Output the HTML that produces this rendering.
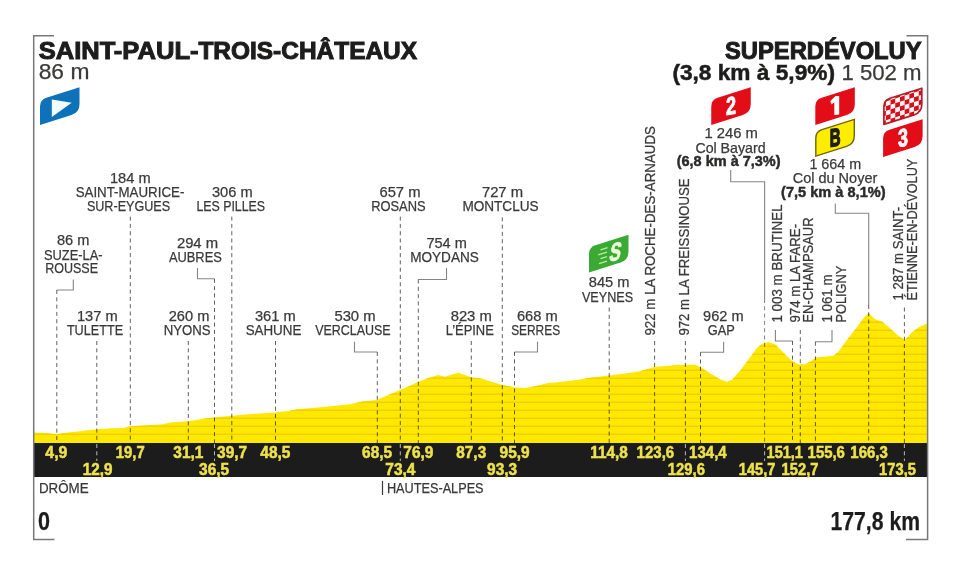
<!DOCTYPE html>
<html><head><meta charset="utf-8"><title>Stage profile</title>
<style>
html,body{margin:0;padding:0;background:#fff;}
body{width:960px;height:576px;overflow:hidden;}
svg{display:block;font-family:"Liberation Sans",sans-serif;}
</style></head><body>
<svg width="960" height="576" viewBox="0 0 960 576">
<defs><filter id="soft" x="0" y="0" width="960" height="576" filterUnits="userSpaceOnUse"><feGaussianBlur stdDeviation="0.35"/></filter></defs>
<g filter="url(#soft)">
<rect width="960" height="576" fill="#ffffff"/>
<defs><clipPath id="pc"><path d="M34,444 L34,432.5 L46.7,433 L56.2,434.2 L63.3,433 L80,431.3 L96.7,429.2 L113.3,428.3 L123.3,428 L130,426.3 L146.7,425.3 L163.3,424.2 L170,422.5 L188.3,421.3 L206.7,418.3 L214.5,417.5 L231.7,415.8 L248.3,414.2 L275,412.5 L290,410.8 L296.7,409.2 L323.3,407 L350,404.2 L363.3,401.3 L376.7,400 L388.3,395 L400,390 L413.3,384.2 L418.3,381.7 L430,377.5 L438.3,375 L445,376.7 L450,375 L458.3,372.8 L465,375 L471.7,377.5 L480,378.3 L491.7,381.7 L501.7,384.7 L510,386.5 L515,387.5 L525,388 L535,386.3 L548.3,383 L560,382 L576.7,380 L593.3,377.2 L609.2,375.5 L626.7,373.3 L640,371.3 L648.3,368.7 L655,366.7 L670,365.8 L676.7,364.7 L695,364.7 L700,366.7 L710,373.3 L720,379.2 L726.7,381.7 L731.7,380 L740,370.8 L750,357.5 L756.7,348.3 L761.7,344.2 L768.3,342 L775,344.2 L783.3,352.5 L791.7,360.8 L798.3,364.2 L805,364.2 L811.7,360.8 L815.8,357.5 L833.3,355.8 L838.3,351.7 L848.3,338.3 L856.7,327.5 L863.3,318.3 L868.7,313.3 L875,319.2 L882.5,321.7 L890,328.3 L898.3,335.8 L905,340 L911.7,332.5 L918.3,327.5 L927.5,323.3 L927.5,444 Z"/></clipPath></defs>
<path d="M34,444 L34,432.5 L46.7,433 L56.2,434.2 L63.3,433 L80,431.3 L96.7,429.2 L113.3,428.3 L123.3,428 L130,426.3 L146.7,425.3 L163.3,424.2 L170,422.5 L188.3,421.3 L206.7,418.3 L214.5,417.5 L231.7,415.8 L248.3,414.2 L275,412.5 L290,410.8 L296.7,409.2 L323.3,407 L350,404.2 L363.3,401.3 L376.7,400 L388.3,395 L400,390 L413.3,384.2 L418.3,381.7 L430,377.5 L438.3,375 L445,376.7 L450,375 L458.3,372.8 L465,375 L471.7,377.5 L480,378.3 L491.7,381.7 L501.7,384.7 L510,386.5 L515,387.5 L525,388 L535,386.3 L548.3,383 L560,382 L576.7,380 L593.3,377.2 L609.2,375.5 L626.7,373.3 L640,371.3 L648.3,368.7 L655,366.7 L670,365.8 L676.7,364.7 L695,364.7 L700,366.7 L710,373.3 L720,379.2 L726.7,381.7 L731.7,380 L740,370.8 L750,357.5 L756.7,348.3 L761.7,344.2 L768.3,342 L775,344.2 L783.3,352.5 L791.7,360.8 L798.3,364.2 L805,364.2 L811.7,360.8 L815.8,357.5 L833.3,355.8 L838.3,351.7 L848.3,338.3 L856.7,327.5 L863.3,318.3 L868.7,313.3 L875,319.2 L882.5,321.7 L890,328.3 L898.3,335.8 L905,340 L911.7,332.5 L918.3,327.5 L927.5,323.3 L927.5,444 Z" fill="#ffe800"/>
<g clip-path="url(#pc)" stroke="#f0d000" stroke-width="1.5"><line x1="34" y1="434.3" x2="928" y2="434.3"/><line x1="34" y1="426.3" x2="928" y2="426.3"/><line x1="34" y1="418.3" x2="928" y2="418.3"/><line x1="34" y1="410.3" x2="928" y2="410.3"/><line x1="34" y1="402.3" x2="928" y2="402.3"/><line x1="34" y1="394.3" x2="928" y2="394.3"/><line x1="34" y1="386.3" x2="928" y2="386.3"/><line x1="34" y1="378.3" x2="928" y2="378.3"/><line x1="34" y1="370.3" x2="928" y2="370.3"/><line x1="34" y1="362.3" x2="928" y2="362.3"/><line x1="34" y1="354.3" x2="928" y2="354.3"/><line x1="34" y1="346.3" x2="928" y2="346.3"/><line x1="34" y1="338.3" x2="928" y2="338.3"/><line x1="34" y1="330.3" x2="928" y2="330.3"/><line x1="34" y1="322.3" x2="928" y2="322.3"/><line x1="34" y1="314.3" x2="928" y2="314.3"/><line x1="34" y1="306.3" x2="928" y2="306.3"/></g>
<rect x="34" y="443" width="893.5" height="34" fill="#1d1d1b"/>
<path d="M54,35.8 H33.7 V539.5 H54.5" fill="none" stroke="#787878" stroke-width="1.5"/>
<path d="M906.5,35.8 H927.6 V539.5 H906" fill="none" stroke="#787878" stroke-width="1.5"/>
<line x1="130.3" y1="216.6" x2="130.3" y2="443" stroke="#1d1d1b" stroke-opacity="0.7" stroke-width="1.0" stroke-dasharray="4 3.3" stroke-dashoffset="0"/>
<line x1="231.8" y1="216.6" x2="231.8" y2="443" stroke="#1d1d1b" stroke-opacity="0.7" stroke-width="1.0" stroke-dasharray="4 3.3" stroke-dashoffset="0"/>
<line x1="400.3" y1="216.6" x2="400.3" y2="443" stroke="#1d1d1b" stroke-opacity="0.7" stroke-width="1.0" stroke-dasharray="4 3.3" stroke-dashoffset="0"/>
<line x1="502.3" y1="217.3" x2="502.3" y2="443" stroke="#1d1d1b" stroke-opacity="0.7" stroke-width="1.0" stroke-dasharray="4 3.3" stroke-dashoffset="0"/>
<line x1="96.8" y1="341" x2="96.8" y2="443" stroke="#1d1d1b" stroke-opacity="0.7" stroke-width="1.0" stroke-dasharray="4 3.3" stroke-dashoffset="0"/>
<line x1="188.3" y1="341" x2="188.3" y2="443" stroke="#1d1d1b" stroke-opacity="0.7" stroke-width="1.0" stroke-dasharray="4 3.3" stroke-dashoffset="0"/>
<line x1="275.5" y1="341" x2="275.5" y2="443" stroke="#1d1d1b" stroke-opacity="0.7" stroke-width="1.0" stroke-dasharray="4 3.3" stroke-dashoffset="0"/>
<line x1="471.3" y1="341" x2="471.3" y2="443" stroke="#1d1d1b" stroke-opacity="0.7" stroke-width="1.0" stroke-dasharray="4 3.3" stroke-dashoffset="0"/>
<line x1="609.2" y1="307.5" x2="609.2" y2="443" stroke="#1d1d1b" stroke-opacity="0.7" stroke-width="1.0" stroke-dasharray="4 3.3" stroke-dashoffset="0"/>
<line x1="654.6" y1="341" x2="654.6" y2="443" stroke="#1d1d1b" stroke-opacity="0.7" stroke-width="1.0" stroke-dasharray="4 3.3" stroke-dashoffset="0"/>
<line x1="685.4" y1="341" x2="685.4" y2="443" stroke="#1d1d1b" stroke-opacity="0.7" stroke-width="1.0" stroke-dasharray="4 3.3" stroke-dashoffset="0"/>
<line x1="800.3" y1="330" x2="800.3" y2="443" stroke="#1d1d1b" stroke-opacity="0.7" stroke-width="1.0" stroke-dasharray="4 3.3" stroke-dashoffset="0"/>
<line x1="904.4" y1="307.5" x2="904.4" y2="443" stroke="#1d1d1b" stroke-opacity="0.7" stroke-width="1.0" stroke-dasharray="4 3.3" stroke-dashoffset="0"/>
<polyline points="73.3,279.5 73.3,290 56.8,290" fill="none" stroke="#858585" stroke-width="1.1"/>
<line x1="56.8" y1="290" x2="56.8" y2="443" stroke="#1d1d1b" stroke-opacity="0.7" stroke-width="1.0" stroke-dasharray="4 3.3" stroke-dashoffset="0"/>
<polyline points="197.5,268 197.5,278.8 214.5,278.8" fill="none" stroke="#858585" stroke-width="1.1"/>
<line x1="214.5" y1="278.8" x2="214.5" y2="443" stroke="#1d1d1b" stroke-opacity="0.7" stroke-width="1.0" stroke-dasharray="4 3.3" stroke-dashoffset="0"/>
<polyline points="446.5,268 446.5,279.5 418.3,279.5" fill="none" stroke="#858585" stroke-width="1.1"/>
<line x1="418.3" y1="279.5" x2="418.3" y2="443" stroke="#1d1d1b" stroke-opacity="0.7" stroke-width="1.0" stroke-dasharray="4 3.3" stroke-dashoffset="0"/>
<polyline points="354.5,341.7 354.5,352 377.3,352" fill="none" stroke="#858585" stroke-width="1.1"/>
<line x1="377.3" y1="352" x2="377.3" y2="443" stroke="#1d1d1b" stroke-opacity="0.7" stroke-width="1.0" stroke-dasharray="4 3.3" stroke-dashoffset="0"/>
<polyline points="537.5,341.7 537.5,352 514.5,352" fill="none" stroke="#858585" stroke-width="1.1"/>
<line x1="514.5" y1="352" x2="514.5" y2="443" stroke="#1d1d1b" stroke-opacity="0.7" stroke-width="1.0" stroke-dasharray="4 3.3" stroke-dashoffset="0"/>
<polyline points="723.6,341.7 723.6,352.2 700.5,352.2" fill="none" stroke="#858585" stroke-width="1.1"/>
<line x1="700.5" y1="352.2" x2="700.5" y2="443" stroke="#1d1d1b" stroke-opacity="0.7" stroke-width="1.0" stroke-dasharray="4 3.3" stroke-dashoffset="0"/>
<polyline points="775.4,330 775.4,341 792.5,341" fill="none" stroke="#858585" stroke-width="1.1"/>
<line x1="792.5" y1="341" x2="792.5" y2="443" stroke="#1d1d1b" stroke-opacity="0.7" stroke-width="1.0" stroke-dasharray="4 3.3" stroke-dashoffset="0"/>
<polyline points="832,330 832,341.7 815.4,341.7" fill="none" stroke="#858585" stroke-width="1.1"/>
<line x1="815.4" y1="341.7" x2="815.4" y2="443" stroke="#1d1d1b" stroke-opacity="0.7" stroke-width="1.0" stroke-dasharray="4 3.3" stroke-dashoffset="0"/>
<polyline points="730.7,170 730.7,181.7 764.6,181.7 764.6,299" fill="none" stroke="#858585" stroke-width="1.1"/>
<line x1="764.6" y1="299" x2="764.6" y2="443" stroke="#1d1d1b" stroke-opacity="0.55" stroke-width="1.0" stroke-dasharray="4 3.3" stroke-dashoffset="0"/>
<polyline points="835.3,203.5 835.3,213.3 868.7,213.3 868.7,305" fill="none" stroke="#858585" stroke-width="1.1"/>
<line x1="868.7" y1="305" x2="868.7" y2="443" stroke="#1d1d1b" stroke-opacity="0.7" stroke-width="1.0" stroke-dasharray="4 3.3" stroke-dashoffset="0"/>
<line x1="96.8" y1="444" x2="96.8" y2="461" stroke="#b8b8b0" stroke-opacity="1" stroke-width="1.0" stroke-dasharray="4 3.3" stroke-dashoffset="0"/>
<line x1="214.5" y1="444" x2="214.5" y2="461" stroke="#b8b8b0" stroke-opacity="1" stroke-width="1.0" stroke-dasharray="4 3.3" stroke-dashoffset="0"/>
<line x1="400.3" y1="444" x2="400.3" y2="461" stroke="#b8b8b0" stroke-opacity="1" stroke-width="1.0" stroke-dasharray="4 3.3" stroke-dashoffset="0"/>
<line x1="685.4" y1="444" x2="685.4" y2="461" stroke="#b8b8b0" stroke-opacity="1" stroke-width="1.0" stroke-dasharray="4 3.3" stroke-dashoffset="0"/>
<line x1="764.6" y1="444" x2="764.6" y2="461" stroke="#b8b8b0" stroke-opacity="1" stroke-width="1.0" stroke-dasharray="4 3.3" stroke-dashoffset="0"/>
<line x1="904.4" y1="444" x2="904.4" y2="461" stroke="#b8b8b0" stroke-opacity="1" stroke-width="1.0" stroke-dasharray="4 3.3" stroke-dashoffset="0"/>
<text x="56.38" y="457.70" font-size="16" font-weight="700" fill="#eee24c" text-anchor="middle" textLength="22.05" lengthAdjust="spacingAndGlyphs" stroke="#eee24c" stroke-width="0.5">4,9</text>
<text x="130.25" y="457.70" font-size="16" font-weight="700" fill="#eee24c" text-anchor="middle" textLength="28.80" lengthAdjust="spacingAndGlyphs" stroke="#eee24c" stroke-width="0.5">19,7</text>
<text x="188.38" y="457.70" font-size="16" font-weight="700" fill="#eee24c" text-anchor="middle" textLength="30.05" lengthAdjust="spacingAndGlyphs" stroke="#eee24c" stroke-width="0.5">31,1</text>
<text x="232.12" y="457.70" font-size="16" font-weight="700" fill="#eee24c" text-anchor="middle" textLength="30.05" lengthAdjust="spacingAndGlyphs" stroke="#eee24c" stroke-width="0.5">39,7</text>
<text x="275.38" y="457.70" font-size="16" font-weight="700" fill="#eee24c" text-anchor="middle" textLength="30.05" lengthAdjust="spacingAndGlyphs" stroke="#eee24c" stroke-width="0.5">48,5</text>
<text x="377.12" y="457.70" font-size="16" font-weight="700" fill="#eee24c" text-anchor="middle" textLength="30.05" lengthAdjust="spacingAndGlyphs" stroke="#eee24c" stroke-width="0.5">68,5</text>
<text x="418.38" y="457.70" font-size="16" font-weight="700" fill="#eee24c" text-anchor="middle" textLength="30.05" lengthAdjust="spacingAndGlyphs" stroke="#eee24c" stroke-width="0.5">76,9</text>
<text x="471.25" y="457.70" font-size="16" font-weight="700" fill="#eee24c" text-anchor="middle" textLength="29.80" lengthAdjust="spacingAndGlyphs" stroke="#eee24c" stroke-width="0.5">87,3</text>
<text x="514.62" y="457.70" font-size="16" font-weight="700" fill="#eee24c" text-anchor="middle" textLength="30.05" lengthAdjust="spacingAndGlyphs" stroke="#eee24c" stroke-width="0.5">95,9</text>
<text x="609.12" y="457.70" font-size="16" font-weight="700" fill="#eee24c" text-anchor="middle" textLength="37.55" lengthAdjust="spacingAndGlyphs" stroke="#eee24c" stroke-width="0.5">114,8</text>
<text x="655.38" y="457.70" font-size="16" font-weight="700" fill="#eee24c" text-anchor="middle" textLength="37.55" lengthAdjust="spacingAndGlyphs" stroke="#eee24c" stroke-width="0.5">123,6</text>
<text x="707.88" y="457.70" font-size="16" font-weight="700" fill="#eee24c" text-anchor="middle" textLength="37.55" lengthAdjust="spacingAndGlyphs" stroke="#eee24c" stroke-width="0.5">134,4</text>
<text x="784.75" y="457.70" font-size="16" font-weight="700" fill="#eee24c" text-anchor="middle" textLength="36.30" lengthAdjust="spacingAndGlyphs" stroke="#eee24c" stroke-width="0.5">151,1</text>
<text x="826.25" y="457.70" font-size="16" font-weight="700" fill="#eee24c" text-anchor="middle" textLength="37.30" lengthAdjust="spacingAndGlyphs" stroke="#eee24c" stroke-width="0.5">155,6</text>
<text x="869.12" y="457.70" font-size="16" font-weight="700" fill="#eee24c" text-anchor="middle" textLength="37.55" lengthAdjust="spacingAndGlyphs" stroke="#eee24c" stroke-width="0.5">166,3</text>
<text x="97.62" y="474.90" font-size="16" font-weight="700" fill="#eee24c" text-anchor="middle" textLength="29.55" lengthAdjust="spacingAndGlyphs" stroke="#eee24c" stroke-width="0.5">12,9</text>
<text x="214.12" y="474.90" font-size="16" font-weight="700" fill="#eee24c" text-anchor="middle" textLength="30.05" lengthAdjust="spacingAndGlyphs" stroke="#eee24c" stroke-width="0.5">36,5</text>
<text x="400.38" y="474.90" font-size="16" font-weight="700" fill="#eee24c" text-anchor="middle" textLength="30.05" lengthAdjust="spacingAndGlyphs" stroke="#eee24c" stroke-width="0.5">73,4</text>
<text x="502.12" y="474.90" font-size="16" font-weight="700" fill="#eee24c" text-anchor="middle" textLength="30.05" lengthAdjust="spacingAndGlyphs" stroke="#eee24c" stroke-width="0.5">93,3</text>
<text x="686.38" y="474.90" font-size="16" font-weight="700" fill="#eee24c" text-anchor="middle" textLength="37.05" lengthAdjust="spacingAndGlyphs" stroke="#eee24c" stroke-width="0.5">129,6</text>
<text x="757.12" y="474.90" font-size="16" font-weight="700" fill="#eee24c" text-anchor="middle" textLength="36.55" lengthAdjust="spacingAndGlyphs" stroke="#eee24c" stroke-width="0.5">145,7</text>
<text x="800.00" y="474.90" font-size="16" font-weight="700" fill="#eee24c" text-anchor="middle" textLength="36.80" lengthAdjust="spacingAndGlyphs" stroke="#eee24c" stroke-width="0.5">152,7</text>
<text x="897.50" y="474.90" font-size="16" font-weight="700" fill="#eee24c" text-anchor="middle" textLength="36.80" lengthAdjust="spacingAndGlyphs" stroke="#eee24c" stroke-width="0.5">173,5</text>
<text x="130.25" y="183.00" font-size="14.5" font-weight="400" fill="#3a3a39" text-anchor="middle" textLength="40.70" lengthAdjust="spacingAndGlyphs" stroke="#3a3a39" stroke-width="0.25">184 m</text>
<text x="130.00" y="197.00" font-size="14.5" font-weight="400" fill="#3a3a39" text-anchor="middle" textLength="108.70" lengthAdjust="spacingAndGlyphs" stroke="#3a3a39" stroke-width="0.25">SAINT-MAURICE-</text>
<text x="128.50" y="210.50" font-size="14.5" font-weight="400" fill="#3a3a39" text-anchor="middle" textLength="83.20" lengthAdjust="spacingAndGlyphs" stroke="#3a3a39" stroke-width="0.25">SUR-EYGUES</text>
<text x="232.25" y="197.00" font-size="14.5" font-weight="400" fill="#3a3a39" text-anchor="middle" textLength="40.70" lengthAdjust="spacingAndGlyphs" stroke="#3a3a39" stroke-width="0.25">306 m</text>
<text x="230.75" y="210.50" font-size="14.5" font-weight="400" fill="#3a3a39" text-anchor="middle" textLength="68.70" lengthAdjust="spacingAndGlyphs" stroke="#3a3a39" stroke-width="0.25">LES PILLES</text>
<text x="400.00" y="197.00" font-size="14.5" font-weight="400" fill="#3a3a39" text-anchor="middle" textLength="41.20" lengthAdjust="spacingAndGlyphs" stroke="#3a3a39" stroke-width="0.25">657 m</text>
<text x="398.38" y="210.50" font-size="14.5" font-weight="400" fill="#3a3a39" text-anchor="middle" textLength="54.45" lengthAdjust="spacingAndGlyphs" stroke="#3a3a39" stroke-width="0.25">ROSANS</text>
<text x="502.50" y="197.00" font-size="14.5" font-weight="400" fill="#3a3a39" text-anchor="middle" textLength="41.20" lengthAdjust="spacingAndGlyphs" stroke="#3a3a39" stroke-width="0.25">727 m</text>
<text x="500.50" y="210.50" font-size="14.5" font-weight="400" fill="#3a3a39" text-anchor="middle" textLength="76.20" lengthAdjust="spacingAndGlyphs" stroke="#3a3a39" stroke-width="0.25">MONTCLUS</text>
<text x="73.12" y="245.00" font-size="14.5" font-weight="400" fill="#3a3a39" text-anchor="middle" textLength="32.45" lengthAdjust="spacingAndGlyphs" stroke="#3a3a39" stroke-width="0.25">86 m</text>
<text x="73.25" y="259.70" font-size="14.5" font-weight="400" fill="#3a3a39" text-anchor="middle" textLength="58.70" lengthAdjust="spacingAndGlyphs" stroke="#3a3a39" stroke-width="0.25">SUZE-LA-</text>
<text x="71.62" y="273.00" font-size="14.5" font-weight="400" fill="#3a3a39" text-anchor="middle" textLength="52.95" lengthAdjust="spacingAndGlyphs" stroke="#3a3a39" stroke-width="0.25">ROUSSE</text>
<text x="197.50" y="248.00" font-size="14.5" font-weight="400" fill="#3a3a39" text-anchor="middle" textLength="41.20" lengthAdjust="spacingAndGlyphs" stroke="#3a3a39" stroke-width="0.25">294 m</text>
<text x="195.38" y="262.00" font-size="14.5" font-weight="400" fill="#3a3a39" text-anchor="middle" textLength="52.95" lengthAdjust="spacingAndGlyphs" stroke="#3a3a39" stroke-width="0.25">AUBRES</text>
<text x="446.62" y="248.00" font-size="14.5" font-weight="400" fill="#3a3a39" text-anchor="middle" textLength="40.45" lengthAdjust="spacingAndGlyphs" stroke="#3a3a39" stroke-width="0.25">754 m</text>
<text x="444.50" y="262.00" font-size="14.5" font-weight="400" fill="#3a3a39" text-anchor="middle" textLength="68.70" lengthAdjust="spacingAndGlyphs" stroke="#3a3a39" stroke-width="0.25">MOYDANS</text>
<text x="97.25" y="321.00" font-size="14.5" font-weight="400" fill="#3a3a39" text-anchor="middle" textLength="40.70" lengthAdjust="spacingAndGlyphs" stroke="#3a3a39" stroke-width="0.25">137 m</text>
<text x="95.00" y="335.00" font-size="14.5" font-weight="400" fill="#3a3a39" text-anchor="middle" textLength="56.20" lengthAdjust="spacingAndGlyphs" stroke="#3a3a39" stroke-width="0.25">TULETTE</text>
<text x="189.00" y="321.00" font-size="14.5" font-weight="400" fill="#3a3a39" text-anchor="middle" textLength="40.70" lengthAdjust="spacingAndGlyphs" stroke="#3a3a39" stroke-width="0.25">260 m</text>
<text x="187.12" y="335.00" font-size="14.5" font-weight="400" fill="#3a3a39" text-anchor="middle" textLength="46.95" lengthAdjust="spacingAndGlyphs" stroke="#3a3a39" stroke-width="0.25">NYONS</text>
<text x="275.25" y="321.00" font-size="14.5" font-weight="400" fill="#3a3a39" text-anchor="middle" textLength="40.70" lengthAdjust="spacingAndGlyphs" stroke="#3a3a39" stroke-width="0.25">361 m</text>
<text x="273.50" y="335.00" font-size="14.5" font-weight="400" fill="#3a3a39" text-anchor="middle" textLength="55.70" lengthAdjust="spacingAndGlyphs" stroke="#3a3a39" stroke-width="0.25">SAHUNE</text>
<text x="355.00" y="321.00" font-size="14.5" font-weight="400" fill="#3a3a39" text-anchor="middle" textLength="41.20" lengthAdjust="spacingAndGlyphs" stroke="#3a3a39" stroke-width="0.25">530 m</text>
<text x="352.88" y="335.00" font-size="14.5" font-weight="400" fill="#3a3a39" text-anchor="middle" textLength="75.45" lengthAdjust="spacingAndGlyphs" stroke="#3a3a39" stroke-width="0.25">VERCLAUSE</text>
<text x="471.25" y="321.00" font-size="14.5" font-weight="400" fill="#3a3a39" text-anchor="middle" textLength="41.20" lengthAdjust="spacingAndGlyphs" stroke="#3a3a39" stroke-width="0.25">823 m</text>
<text x="469.75" y="335.00" font-size="14.5" font-weight="400" fill="#3a3a39" text-anchor="middle" textLength="48.20" lengthAdjust="spacingAndGlyphs" stroke="#3a3a39" stroke-width="0.25">L’ÉPINE</text>
<text x="537.25" y="321.00" font-size="14.5" font-weight="400" fill="#3a3a39" text-anchor="middle" textLength="40.70" lengthAdjust="spacingAndGlyphs" stroke="#3a3a39" stroke-width="0.25">668 m</text>
<text x="535.62" y="335.00" font-size="14.5" font-weight="400" fill="#3a3a39" text-anchor="middle" textLength="48.95" lengthAdjust="spacingAndGlyphs" stroke="#3a3a39" stroke-width="0.25">SERRES</text>
<text x="723.35" y="321.00" font-size="14.5" font-weight="400" fill="#3a3a39" text-anchor="middle" textLength="40.50" lengthAdjust="spacingAndGlyphs" stroke="#3a3a39" stroke-width="0.25">962 m</text>
<text x="721.25" y="335.00" font-size="14.5" font-weight="400" fill="#3a3a39" text-anchor="middle" textLength="27.10" lengthAdjust="spacingAndGlyphs" stroke="#3a3a39" stroke-width="0.25">GAP</text>
<text x="609.20" y="287.30" font-size="14.5" font-weight="400" fill="#3a3a39" text-anchor="middle" textLength="40.80" lengthAdjust="spacingAndGlyphs" stroke="#3a3a39" stroke-width="0.25">845 m</text>
<text x="607.50" y="301.50" font-size="14.5" font-weight="400" fill="#3a3a39" text-anchor="middle" textLength="51.20" lengthAdjust="spacingAndGlyphs" stroke="#3a3a39" stroke-width="0.25">VEYNES</text>
<text x="731.15" y="138.30" font-size="14.5" font-weight="400" fill="#3a3a39" text-anchor="middle" textLength="53.50" lengthAdjust="spacingAndGlyphs" stroke="#3a3a39" stroke-width="0.25">1 246 m</text>
<text x="730.50" y="152.50" font-size="14.5" font-weight="400" fill="#3a3a39" text-anchor="middle" textLength="70.20" lengthAdjust="spacingAndGlyphs" stroke="#3a3a39" stroke-width="0.25">Col Bayard</text>
<text x="835.35" y="169.30" font-size="14.5" font-weight="400" fill="#3a3a39" text-anchor="middle" textLength="51.90" lengthAdjust="spacingAndGlyphs" stroke="#3a3a39" stroke-width="0.25">1 664 m</text>
<text x="835.00" y="183.30" font-size="14.5" font-weight="400" fill="#3a3a39" text-anchor="middle" textLength="84.60" lengthAdjust="spacingAndGlyphs" stroke="#3a3a39" stroke-width="0.25">Col du Noyer</text>
<text x="63.75" y="492.50" font-size="14.5" font-weight="400" fill="#3a3a39" text-anchor="middle" textLength="49.70" lengthAdjust="spacingAndGlyphs" stroke="#3a3a39" stroke-width="0.25">DRÔME</text>
<text x="435.25" y="492.50" font-size="14.5" font-weight="400" fill="#3a3a39" text-anchor="middle" textLength="96.70" lengthAdjust="spacingAndGlyphs" stroke="#3a3a39" stroke-width="0.25">HAUTES-ALPES</text>
<text x="728.65" y="165.50" font-size="14.5" font-weight="700" fill="#2a2a29" text-anchor="middle" textLength="103.90" lengthAdjust="spacingAndGlyphs" stroke="#2a2a29" stroke-width="0.45">(6,8 km à 7,3%)</text>
<text x="833.35" y="196.70" font-size="14.5" font-weight="700" fill="#2a2a29" text-anchor="middle" textLength="104.50" lengthAdjust="spacingAndGlyphs" stroke="#2a2a29" stroke-width="0.45">(7,5 km à 8,1%)</text>
<line x1="382.5" y1="480.8" x2="382.5" y2="495" stroke="#3a3a39" stroke-width="1.2"/>
<text transform="translate(654.50 230.85) rotate(-90)" x="0" y="0" font-size="14.5" font-weight="400" fill="#3a3a39" stroke="#3a3a39" stroke-width="0.25" text-anchor="middle" textLength="209.50" lengthAdjust="spacingAndGlyphs">922 m LA ROCHE-DES-ARNAUDS</text>
<text transform="translate(689.20 257.00) rotate(-90)" x="0" y="0" font-size="14.5" font-weight="400" fill="#3a3a39" stroke="#3a3a39" stroke-width="0.25" text-anchor="middle" textLength="157.20" lengthAdjust="spacingAndGlyphs">972 m LA FREISSINOUSE</text>
<text transform="translate(781.50 263.50) rotate(-90)" x="0" y="0" font-size="14.5" font-weight="400" fill="#3a3a39" stroke="#3a3a39" stroke-width="0.25" text-anchor="middle" textLength="118.20" lengthAdjust="spacingAndGlyphs">1 003 m BRUTINEL</text>
<text transform="translate(800.00 273.25) rotate(-90)" x="0" y="0" font-size="14.5" font-weight="400" fill="#3a3a39" stroke="#3a3a39" stroke-width="0.25" text-anchor="middle" textLength="98.70" lengthAdjust="spacingAndGlyphs">974 m LA FARE-</text>
<text transform="translate(813.30 270.00) rotate(-90)" x="0" y="0" font-size="14.5" font-weight="400" fill="#3a3a39" stroke="#3a3a39" stroke-width="0.25" text-anchor="middle" textLength="105.20" lengthAdjust="spacingAndGlyphs">EN-CHAMPSAUR</text>
<text transform="translate(832.00 298.50) rotate(-90)" x="0" y="0" font-size="14.5" font-weight="400" fill="#3a3a39" stroke="#3a3a39" stroke-width="0.25" text-anchor="middle" textLength="48.20" lengthAdjust="spacingAndGlyphs">1 061 m</text>
<text transform="translate(845.80 294.12) rotate(-90)" x="0" y="0" font-size="14.5" font-weight="400" fill="#3a3a39" stroke="#3a3a39" stroke-width="0.25" text-anchor="middle" textLength="56.95" lengthAdjust="spacingAndGlyphs">POLIGNY</text>
<text transform="translate(903.30 253.75) rotate(-90)" x="0" y="0" font-size="14.5" font-weight="400" fill="#3a3a39" stroke="#3a3a39" stroke-width="0.25" text-anchor="middle" textLength="93.70" lengthAdjust="spacingAndGlyphs">1 287 m SAINT-</text>
<text transform="translate(916.50 229.65) rotate(-90)" x="0" y="0" font-size="14.5" font-weight="400" fill="#3a3a39" stroke="#3a3a39" stroke-width="0.25" text-anchor="middle" textLength="141.90" lengthAdjust="spacingAndGlyphs">ÉTIENNE-EN-DÉVOLUY</text>
<text x="118.60" y="59.10" font-size="24" font-weight="700" fill="#1d1d1b" text-anchor="middle" textLength="159.80" lengthAdjust="spacingAndGlyphs" stroke="#1d1d1b" stroke-width="1.0">SAINT-PAUL-</text>
<text x="307.75" y="59.10" font-size="24" font-weight="700" fill="#1d1d1b" text-anchor="middle" textLength="218.70" lengthAdjust="spacingAndGlyphs" stroke="#1d1d1b" stroke-width="1.0">TROIS-CHÂTEAUX</text>
<text x="64.05" y="79.40" font-size="21.5" font-weight="400" fill="#3a3a39" text-anchor="middle" textLength="50.70" lengthAdjust="spacingAndGlyphs" stroke="#3a3a39" stroke-width="0.25">86 m</text>
<text x="823.30" y="59.20" font-size="24" font-weight="700" fill="#1d1d1b" text-anchor="middle" textLength="196.60" lengthAdjust="spacingAndGlyphs" stroke="#1d1d1b" stroke-width="1.0">SUPERDÉVOLUY</text>
<text x="753.70" y="79.90" font-size="21.5" font-weight="700" fill="#1d1d1b" text-anchor="middle" textLength="162.60" lengthAdjust="spacingAndGlyphs" stroke="#1d1d1b" stroke-width="0.5">(3,8 km à 5,9%)</text>
<text x="881.50" y="79.90" font-size="21.5" font-weight="400" fill="#3a3a39" text-anchor="middle" textLength="80.20" lengthAdjust="spacingAndGlyphs" stroke="#3a3a39" stroke-width="0.25">1 502 m</text>
<text x="44.00" y="530.00" font-size="25" font-weight="700" fill="#1d1d1b" text-anchor="middle" textLength="12.00" lengthAdjust="spacingAndGlyphs" stroke="#1d1d1b" stroke-width="0.25">0</text>
<text x="875.25" y="530.00" font-size="25" font-weight="700" fill="#1d1d1b" text-anchor="middle" textLength="89.50" lengthAdjust="spacingAndGlyphs" stroke="#1d1d1b" stroke-width="0.25">177,8 km</text>
<path d="M40.00,125.00 L40.00,106.40 Q40.00,99.80 46.40,97.75 L79.50,87.30 L79.50,104.00 Q79.50,112.50 71.50,115.05 Z" fill="#1072ba"/>
<path d="M51.8,99.6 L71.7,102.7 L51.8,117.1 Z" fill="#f2fbff"/>
<path d="M711.25,125.00 L711.25,106.40 Q711.25,99.80 717.65,97.75 L750.75,87.30 L750.75,104.00 Q750.75,112.50 742.75,115.05 Z" fill="#e20a17"/>
<text transform="translate(731.05 114.40) skewY(-8) scale(0.72 1)" x="0" y="0" font-size="25" font-weight="700" fill="#fff" stroke="#fff" stroke-width="0.9" text-anchor="middle">2</text>
<path d="M815.30,125.00 L815.30,106.40 Q815.30,99.80 821.70,97.75 L854.80,87.30 L854.80,104.00 Q854.80,112.50 846.80,115.05 Z" fill="#e20a17"/>
<path d="M839.2,95.9 L839.2,114.6 L834.3,114.9 L834.3,102.3 L831.7,104.5 L830.2,101.3 L835.4,95.9 Z" fill="#fff"/>
<path d="M815.80,156.15 L815.80,138.02 Q815.80,131.58 822.04,129.59 L854.30,119.40 L854.30,135.68 Q854.30,143.96 846.50,146.45 Z" fill="#ffed00" stroke="#6f6600" stroke-width="1.4"/>
<text transform="translate(835.10 146.00) skewY(-8) scale(0.6 1)" x="0" y="0" font-size="25" font-weight="700" fill="#1d1d1b" stroke="#1d1d1b" stroke-width="1.5" text-anchor="middle">B</text>
<path d="M883.10,157.00 L883.10,138.40 Q883.10,131.80 889.50,129.75 L922.60,119.30 L922.60,136.00 Q922.60,144.50 914.60,147.05 Z" fill="#e20a17"/>
<text transform="translate(902.90 146.40) skewY(-8) scale(0.72 1)" x="0" y="0" font-size="25" font-weight="700" fill="#fff" stroke="#fff" stroke-width="0.9" text-anchor="middle">3</text>
<defs><pattern id="chk" width="9.4" height="9.4" patternUnits="userSpaceOnUse" patternTransform="translate(883.1 0) skewY(-17.5) translate(7.45 8.35)"><rect width="9.4" height="9.4" fill="#fff4f2"/><rect width="4.7" height="4.7" fill="#d8111d"/><rect x="4.7" y="4.7" width="4.7" height="4.7" fill="#d8111d"/></pattern></defs>
<path d="M883.90,124.37 L883.90,106.53 Q883.90,100.19 890.04,98.23 L921.80,88.20 L921.80,104.22 Q921.80,112.38 914.12,114.83 Z" fill="url(#chk)" stroke="#b51d28" stroke-width="1.7" stroke-linejoin="round"/>
<path d="M589.00,272.45 L589.00,253.85 Q589.00,247.25 595.40,245.20 L628.50,234.75 L628.50,251.45 Q628.50,259.95 620.50,262.50 Z" fill="#3aaa35"/>
<text transform="translate(614.2 260.6) skewY(-10) skewX(-10) scale(0.68 1)" font-size="25" font-weight="700" fill="#e9ffd9" stroke="#e9ffd9" stroke-width="0.9" text-anchor="middle">S</text>
<g stroke="#b9f09a" stroke-width="1.3" transform="translate(0 0)"><line x1="600.5" y1="249.8" x2="607.5" y2="247.7"/><line x1="598.2" y1="254.8" x2="607" y2="252.2"/><line x1="600.5" y1="258.6" x2="607" y2="256.7"/><line x1="599" y1="263.6" x2="607" y2="261.2"/></g>
</g>
</svg>
</body></html>
